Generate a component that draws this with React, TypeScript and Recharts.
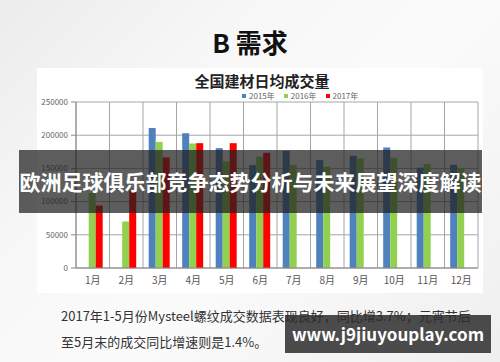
import React from 'react';
import { BarChart, Bar, XAxis, YAxis, CartesianGrid } from 'recharts';

const months = ['1月', '2月', '3月', '4月', '5月', '6月', '7月', '8月', '9月', '10月', '11月', '12月'];
const sales2015 = [null, null, 211000, 203000, 180500, 155000, 176500, 162500, 169000, 181500, 151000, 155500];
const sales2016 = [113000, 70000, 190000, 187500, 160500, 167500, 155000, 152500, 165000, 166000, 156500, 150500];
const sales2017 = [94000, 117000, 166500, 188000, 188000, 173500, null, null, null, null, null, null];
const yTicks = [0, 50000, 100000, 150000, 200000, 250000];
const seriesNames = ['2015年', '2016年', '2017年'];
const seriesColors = ['#4F81BD', '#92D050', '#FF0000'];

const data = months.map((m, i) => ({
    month: m,
    y2015: sales2015[i],
    y2016: sales2016[i],
    y2017: sales2017[i],
}));

const font = '"Noto Sans CJK SC", "Noto Sans", sans-serif';

const App: React.FC = () => {
    return (
        <div
            style={{
                position: 'absolute',
                left: 0,
                top: 0,
                width: 500,
                height: 362,
                overflow: 'hidden',
                fontFamily: font,
                background: 'linear-gradient(135deg, #ececec 0%, #f7f7f7 30%, #fbfbfb 55%, #efefef 100%)',
            }}
        >
            <div style={{ position: 'absolute', left: 0, top: 22, width: 500, textAlign: 'center', fontSize: 26, fontWeight: 700, color: '#111', lineHeight: '40px' }}>
                B 需求
            </div>
            <div style={{ position: 'absolute', left: 37, top: 68, width: 446, height: 225, background: '#fff' }} />
            <div style={{ position: 'absolute', left: 0, top: 72, width: 524, textAlign: 'center', fontSize: 15, fontWeight: 700, color: '#222', lineHeight: '18px' }}>
                全国建材日均成交量
            </div>
            <div style={{ position: 'absolute', left: 242, top: 91, display: 'flex', gap: 9, fontSize: 8, lineHeight: '10px', color: '#666' }}>
                {seriesNames.map((n, i) => (
                    <span key={n} style={{ display: 'flex', alignItems: 'center' }}>
                        <span style={{ width: 4, height: 4, background: seriesColors[i], marginRight: 3, display: 'inline-block' }} />
                        {n}
                    </span>
                ))}
            </div>
            <div style={{ position: 'absolute', left: 0, top: 0 }}>
                <BarChart
                    width={500}
                    height={362}
                    data={data}
                    margin={{ top: 102, right: 22, bottom: 74, left: 36 }}
                    barCategoryGap="17%"
                    barGap={0}
                >
                    <CartesianGrid
                        stroke="#a6a6a6"
                        verticalCoordinatesGenerator={({ offset }: any) =>
                            Array.from({ length: months.length + 1 }, (_, i) => offset.left + (i * offset.width) / months.length)
                        }
                    />
                    <XAxis
                        dataKey="month"
                        height={20}
                        tickLine={false}
                        tickSize={0}
                        tickMargin={9}
                        axisLine={{ stroke: '#888' }}
                        tick={{ fontSize: 10, fill: '#555' }}
                        interval={0}
                    />
                    <YAxis
                        width={40}
                        domain={[0, 250000]}
                        ticks={yTicks}
                        tickSize={5}
                        tickMargin={3}
                        axisLine={{ stroke: '#888' }}
                        tickLine={{ stroke: '#888' }}
                        tick={{ fontSize: 8, fill: '#666' }}
                    />
                    <Bar dataKey="y2015" name={seriesNames[0]} fill={seriesColors[0]} isAnimationActive={false} />
                    <Bar dataKey="y2016" name={seriesNames[1]} fill={seriesColors[1]} isAnimationActive={false} />
                    <Bar dataKey="y2017" name={seriesNames[2]} fill={seriesColors[2]} isAnimationActive={false} />
                </BarChart>
            </div>
            <div style={{ position: 'absolute', left: 19, top: 150, width: 463, height: 63, background: 'rgba(30,30,30,0.72)' }} />
            <div style={{ position: 'absolute', left: 19, top: 150, width: 463, height: 63, lineHeight: '63px', textAlign: 'center', color: '#fff', fontSize: 21, fontWeight: 700, whiteSpace: 'nowrap' }}>
                欧洲足球俱乐部竞争态势分析与未来展望深度解读
            </div>
            <div style={{ position: 'absolute', left: 61, top: 303, width: 430, fontSize: 13, color: '#333', lineHeight: '26px', whiteSpace: 'nowrap' }}>
                2017年1-5月份Mysteel螺纹成交数据表现良好，同比增3.7%；元宵节后
                <br />
                至5月末的成交同比增速则是1.4%。
            </div>
            <div style={{ position: 'absolute', left: 285, top: 315, width: 206, height: 38, background: 'rgba(45,45,45,0.85)' }} />
            <div style={{ position: 'absolute', left: 285, top: 315, width: 206, height: 38, lineHeight: '38px', textAlign: 'center', color: '#fff', fontSize: 17, fontWeight: 700, whiteSpace: 'nowrap' }}>
                www.j9jiuyouplay.com
            </div>
        </div>
    );
};

export default App;
